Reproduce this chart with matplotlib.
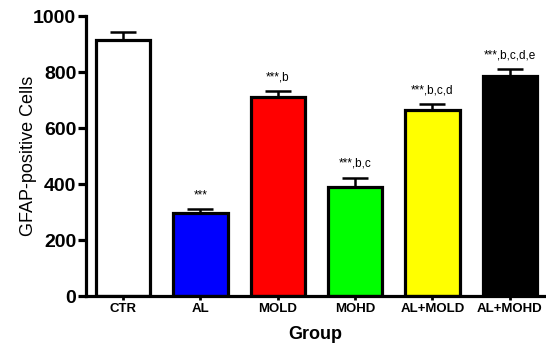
import numpy as np
import matplotlib.pyplot as plt

groups = ["CTR", "AL", "MOLD", "MOHD", "AL+MOLD", "AL+MOHD"]
means = [915, 296, 712, 390, 664, 786]
sems = [30, 15, 20, 33, 22, 25]
labels = ["", "***", "***,b", "***,b,c", "***,b,c,d", "***,b,c,d,e"]
colors = ["white", "#0000ff", "#ff0000", "#00ff00", "#ffff00", "black"]

plt.rcParams['font.family'] = ['Liberation Sans', 'DejaVu Sans']

fig = plt.figure(figsize=(5.46, 3.43), dpi=100)
ax = fig.add_axes([0.1575, 0.137, 0.84, 0.816])

x = np.arange(len(groups))
ax.bar(x, means, width=0.7, color=colors, edgecolor="black", linewidth=2.3, zorder=2)
ax.errorbar(x, means, yerr=[np.zeros(len(sems)), sems], fmt="none", ecolor="black",
            elinewidth=1.8, capsize=9.5, capthick=1.8, zorder=1)

for xi, m, s, lab in zip(x, means, sems, labels):
    if lab:
        ax.text(xi, m + s + 28, lab, ha="center", va="bottom", fontsize=8.5)

ax.set_xlim(-0.48, 5.45)
ax.set_ylim(0, 1000)
ax.set_yticks([0, 200, 400, 600, 800, 1000])
ax.set_xticks(x)
ax.set_xticklabels(groups, fontsize=9.5, fontweight="bold")
for t in ax.get_yticklabels():
    t.set_fontsize(14)
    t.set_fontweight("bold")

ax.spines["top"].set_visible(False)
ax.spines["right"].set_visible(False)
ax.spines["left"].set_linewidth(2.3)
ax.spines["bottom"].set_linewidth(2.3)
ax.tick_params(axis="y", length=6, width=2.3, pad=1)
ax.tick_params(axis="x", length=3, width=2, pad=2)

ax.set_ylabel("GFAP-positive Cells", fontsize=13, labelpad=-3)
ax.set_xlabel("Group", fontsize=13, fontweight="bold", labelpad=8)

fig.savefig("out.png", dpi=100)
